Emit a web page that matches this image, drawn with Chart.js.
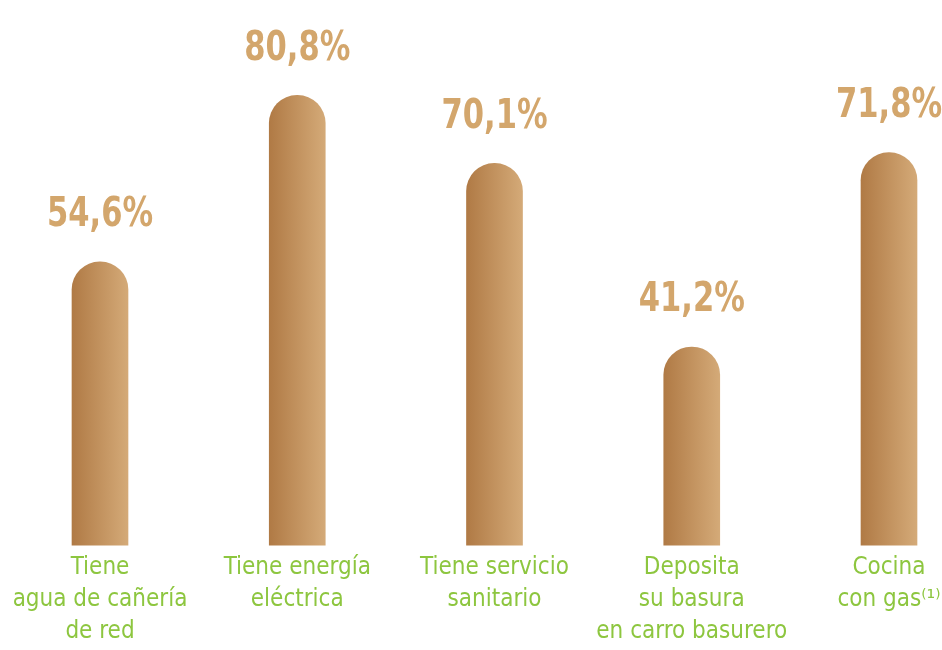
<!DOCTYPE html>
<html lang="es">
<head>
<meta charset="utf-8">
<title>Servicios del hogar</title>
<style>
  html, body { margin: 0; padding: 0; background: #ffffff; }
  #wrap { width: 942px; height: 650px; position: relative; }
</style>
</head>
<body>
<div id="wrap"><canvas id="myChart"></canvas></div>

<script src="https://cdn.jsdelivr.net/npm/chart.js"></script>
<script>
// datos
const categorias = [
  ['Tiene', 'agua de cañería', 'de red'],
  ['Tiene energía', 'eléctrica'],
  ['Tiene servicio', 'sanitario'],
  ['Deposita', 'su basura', 'en carro basurero'],
  ['Cocina', 'con gas⁽¹⁾']
];
const porcentajes = [54.6, 80.8, 70.1, 41.2, 71.8];
const etiquetas = ['54,6%', '80,8%', '70,1%', '41,2%', '71,8%'];

const fuente = '"Liberation Sans Narrow", "DejaVu Sans Condensed", "Roboto", sans-serif';

// degradado horizontal en cada barra
function degradado(ctx) {
  const chart = ctx.chart;
  if (!chart.chartArea || ctx.dataIndex === undefined) return '#c08f5a';
  const x = chart.scales.x.getPixelForValue(ctx.dataIndex);
  const g = chart.ctx.createLinearGradient(x - 28, 0, x + 28, 0);
  g.addColorStop(0, '#b07a45');
  g.addColorStop(1, '#d4aa78');
  return g;
}

// etiquetas de valor sobre las barras (letra estrecha)
const valores = {
  id: 'valores',
  afterDatasetsDraw(chart) {
    const c = chart.ctx;
    const meta = chart.getDatasetMeta(0);
    meta.data.forEach((bar, i) => {
      c.save();
      c.translate(bar.x, bar.y - 46);
      c.scale(0.85, 1);
      c.fillStyle = '#d3a66c';
      c.font = 'bold 40px ' + fuente;
      c.textAlign = 'center';
      c.textBaseline = 'middle';
      c.fillText(etiquetas[i], 0, 0);
      c.restore();
    });
  }
};

const ctx = document.getElementById('myChart');
new Chart(ctx, {
  type: 'bar',
  data: {
    labels: categorias,
    datasets: [{
      data: porcentajes,
      base: 10,
      backgroundColor: degradado,
      barThickness: 56,
      borderRadius: { topLeft: 28, topRight: 28, bottomLeft: 0, bottomRight: 0 },
      borderSkipped: 'bottom',
      clip: false
    }]
  },
  options: {
    responsive: true,
    maintainAspectRatio: false,
    animation: false,
    layout: { padding: { left: 100, right: 53, top: 37, bottom: -5 } },
    plugins: {
      legend: { display: false },
      tooltip: { enabled: false }
    },
    scales: {
      x: {
        offset: false,
        grid: { display: false, drawTicks: false },
        border: { display: false },
        ticks: {
          color: '#8dc63f',
          font: { family: fuente, size: 24, lineHeight: 1.33 },
          padding: 7,
          maxRotation: 0,
          autoSkip: false
        },
        afterFit(scale) {
          // que las etiquetas de los extremos no empujen el area
          scale.paddingLeft = 0;
          scale.paddingRight = 0;
        }
      },
      y: {
        display: false,
        min: 10,
        max: 90
      }
    }
  },
  plugins: [valores]
});
</script>
</body>
</html>
